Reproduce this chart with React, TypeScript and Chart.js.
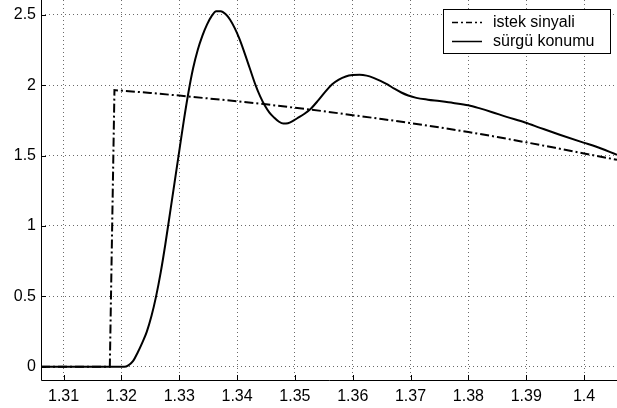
import React, { useEffect, useRef } from "react";
import { Chart, registerables } from "chart.js";

Chart.register(...registerables);

const xTicks = [1.31, 1.32, 1.33, 1.34, 1.35, 1.36, 1.37, 1.38, 1.39, 1.4];
const yTicks = [0, 0.5, 1, 1.5, 2, 2.5];

const legendLabels = ["istek sinyali", "sürgü konumu"];

// istek sinyali (reference / command signal)
const refT = [1.3061, 1.318, 1.3188, 1.325, 1.33, 1.335, 1.34, 1.345, 1.35, 1.355, 1.36, 1.365, 1.37, 1.375, 1.38, 1.385, 1.39, 1.395, 1.4, 1.4057];
const refV = [0, 0, 1.965, 1.945, 1.926, 1.906, 1.886, 1.864, 1.84, 1.815, 1.787, 1.76, 1.731, 1.7, 1.667, 1.632, 1.594, 1.555, 1.515, 1.47];

// sürgü konumu (spool position)
const posT = [1.3061, 1.3205, 1.3212, 1.322, 1.3228, 1.3236, 1.3244, 1.3252, 1.326, 1.3268, 1.3276, 1.3284, 1.3292, 1.33, 1.3308, 1.3316, 1.3324, 1.3332, 1.334, 1.3348, 1.3356, 1.3364, 1.3372, 1.338, 1.3388, 1.3396, 1.3404, 1.3412, 1.3422, 1.3432, 1.344, 1.3448, 1.3456, 1.3464, 1.3472, 1.348, 1.3488, 1.3496, 1.3504, 1.3516, 1.3528, 1.354, 1.3552, 1.3564, 1.3576, 1.3588, 1.36, 1.3612, 1.3624, 1.3636, 1.3648, 1.366, 1.3672, 1.3684, 1.3696, 1.371, 1.373, 1.375, 1.3774, 1.38, 1.382, 1.384, 1.3866, 1.3898, 1.3924, 1.3958, 1.3999, 1.4019, 1.4057];
const posV = [0, 0, 0.01, 0.04, 0.1, 0.17, 0.25, 0.36, 0.5, 0.67, 0.87, 1.09, 1.31, 1.53, 1.75, 1.95, 2.12, 2.25, 2.35, 2.43, 2.49, 2.525, 2.525, 2.505, 2.465, 2.405, 2.33, 2.24, 2.12, 2.0, 1.92, 1.855, 1.805, 1.77, 1.742, 1.727, 1.73, 1.745, 1.765, 1.795, 1.835, 1.89, 1.95, 2.005, 2.04, 2.062, 2.072, 2.074, 2.068, 2.052, 2.03, 2.005, 1.975, 1.948, 1.927, 1.91, 1.897, 1.887, 1.874, 1.857, 1.835, 1.81, 1.775, 1.735, 1.697, 1.648, 1.592, 1.566, 1.506];

const FONT = '"Liberation Sans", Arial, Helvetica, sans-serif';
const DASHDOT = [9, 3, 2, 3];

const fmt = (v: number) => String(Number(v.toFixed(4)));

export default function App() {
  const ref = useRef<HTMLCanvasElement>(null);

  useEffect(() => {
    if (!ref.current) return;

    const extras = {
      id: "extras",
      afterDatasetsDraw(chart: any) {
        const ctx = chart.ctx;
        const { left, bottom } = chart.chartArea;
        const xs = chart.scales.x;
        const ys = chart.scales.y;
        ctx.save();
        // axis lines
        ctx.strokeStyle = "#000";
        ctx.lineWidth = 1;
        ctx.setLineDash([]);
        ctx.beginPath();
        ctx.moveTo(left + 0.5, 0);
        ctx.lineTo(left + 0.5, bottom + 0.5);
        ctx.lineTo(chart.width, bottom + 0.5);
        ctx.stroke();
        // inward tick marks
        ctx.beginPath();
        xTicks.forEach((t) => {
          const px = Math.round(xs.getPixelForValue(t)) + 0.5;
          ctx.moveTo(px, bottom);
          ctx.lineTo(px, bottom - 5);
        });
        yTicks.forEach((v) => {
          const py = Math.round(ys.getPixelForValue(v)) + 0.5;
          ctx.moveTo(left, py);
          ctx.lineTo(left + 5, py);
        });
        ctx.stroke();
        // legend
        const bx = 443.5, by = 9.5, bw = 167, bh = 44;
        ctx.fillStyle = "#fff";
        ctx.fillRect(bx, by, bw, bh);
        ctx.strokeRect(bx, by, bw, bh);
        const rows = [22.5, 41.5];
        ctx.lineWidth = 1.5;
        ctx.setLineDash([6, 3, 2, 3]);
        ctx.beginPath();
        ctx.moveTo(452, rows[0]);
        ctx.lineTo(482, rows[0]);
        ctx.stroke();
        ctx.setLineDash([]);
        ctx.beginPath();
        ctx.moveTo(452, rows[1]);
        ctx.lineTo(482, rows[1]);
        ctx.stroke();
        ctx.fillStyle = "#000";
        ctx.font = "16px " + FONT;
        ctx.textAlign = "left";
        ctx.textBaseline = "middle";
        ctx.fillText(legendLabels[0], 493, rows[0]);
        ctx.fillText(legendLabels[1], 493, rows[1]);
        ctx.restore();
      },
    };

    const chart = new Chart(ref.current, {
      type: "scatter",
      data: {
        datasets: [
          {
            label: legendLabels[0],
            data: refT.map((t, i) => ({ x: t, y: refV[i] })),
            showLine: true,
            borderColor: "#000",
            borderWidth: 2,
            borderDash: DASHDOT,
            pointRadius: 0,
            tension: 0,
          },
          {
            label: legendLabels[1],
            data: posT.map((t, i) => ({ x: t, y: posV[i] })),
            showLine: true,
            borderColor: "#000",
            borderWidth: 2,
            pointRadius: 0,
            cubicInterpolationMode: "monotone",
          },
        ],
      },
      options: {
        animation: false,
        responsive: false,
        devicePixelRatio: 1,
        layout: { padding: 0 },
        plugins: {
          legend: { display: false },
          tooltip: { enabled: false },
        },
        scales: {
          x: {
            type: "linear",
            min: 1.3061,
            max: 1.4057,
            afterBuildTicks: (s: any) => {
              s.ticks = xTicks.map((v) => ({ value: v }));
            },
            afterFit: (s: any) => {
              s.height = 28;
              s.paddingLeft = 0;
              s.paddingRight = 0;
            },
            border: { display: false, dash: [1, 3] },
            grid: {
              color: "#6a6a6a",
              lineWidth: 1,
              drawTicks: false,
            },
            ticks: {
              color: "#000",
              padding: 7,
              maxRotation: 0,
              autoSkip: false,
              font: { size: 16, family: FONT },
              callback: (v: any) => fmt(Number(v)),
            },
          },
          y: {
            type: "linear",
            min: -0.094,
            max: 2.605,
            afterBuildTicks: (s: any) => {
              s.ticks = yTicks.map((v) => ({ value: v }));
            },
            afterFit: (s: any) => {
              s.width = 41;
              s.paddingTop = 0;
              s.paddingBottom = 0;
            },
            border: { display: false, dash: [1, 3] },
            grid: {
              color: "#6a6a6a",
              lineWidth: 1,
              drawTicks: false,
            },
            ticks: {
              color: "#000",
              padding: 5,
              autoSkip: false,
              font: { size: 16, family: FONT },
              callback: (v: any) => fmt(Number(v)),
            },
          },
        },
      },
      plugins: [extras],
    } as any);

    return () => chart.destroy();
  }, []);

  return (
    <div style={{ position: "absolute", left: 0, top: 0, width: 617, height: 408, background: "#fff" }}>
      <canvas ref={ref} width={617} height={408} style={{ display: "block" }} />
    </div>
  );
}
